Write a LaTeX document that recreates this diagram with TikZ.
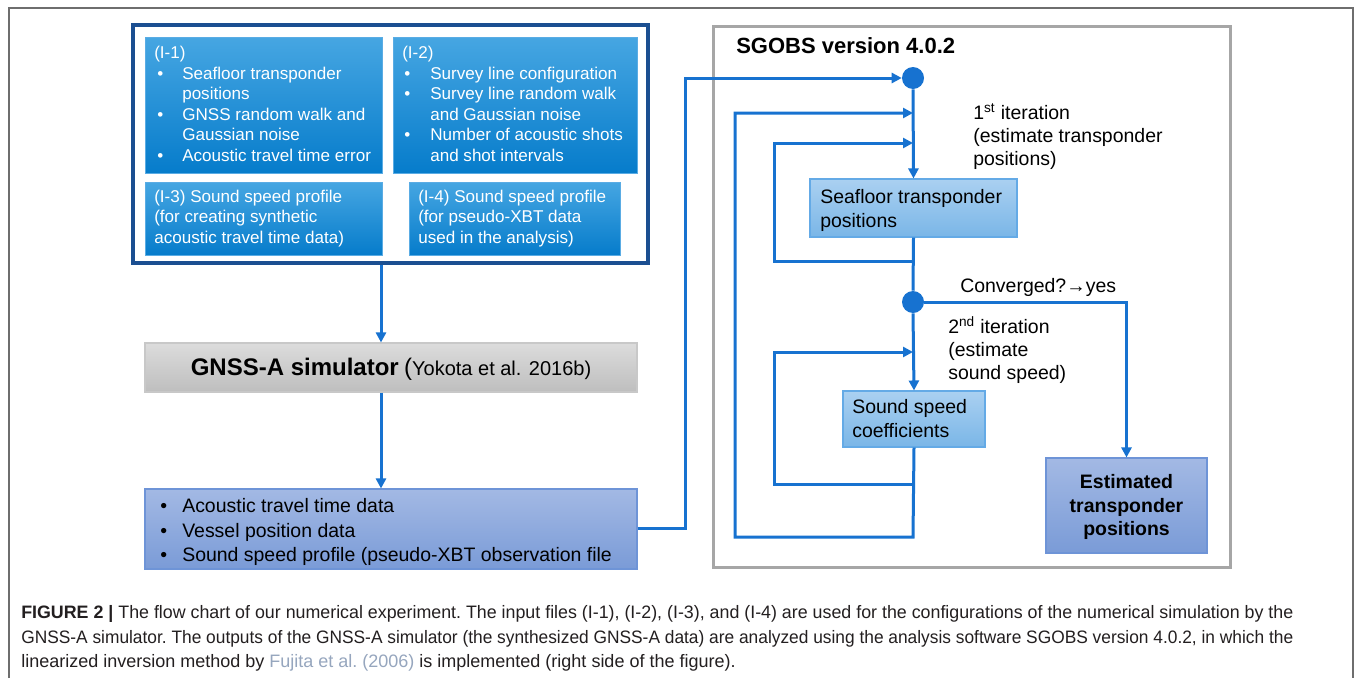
\documentclass[tikz,border=0pt]{standalone}
\usepackage{fontspec}
\setmainfont{Liberation Sans}
\usetikzlibrary{arrows.meta,fit,calc}
\definecolor{flow}{RGB}{23,114,208}
\definecolor{navy}{RGB}{27,79,145}
\definecolor{framegray}{RGB}{110,110,110}
\definecolor{sggray}{RGB}{166,166,166}
\definecolor{tbtop}{RGB}{70,166,226}
\definecolor{tbbot}{RGB}{6,124,203}
\definecolor{tbdraw}{RGB}{90,172,228}
\definecolor{pbtop}{RGB}{163,185,228}
\definecolor{pbbot}{RGB}{122,155,215}
\definecolor{pbdraw}{RGB}{110,148,215}
\definecolor{lbtop}{RGB}{170,208,241}
\definecolor{lbbot}{RGB}{122,182,231}
\definecolor{lbdraw}{RGB}{100,170,230}
\definecolor{gbtop}{RGB}{220,220,220}
\definecolor{gbbot}{RGB}{190,190,190}
\definecolor{gbdraw}{RGB}{200,200,200}
\definecolor{captxt}{RGB}{35,31,32}
\definecolor{linkc}{RGB}{150,166,190}
\newcommand\fsL{\fontsize{12.8pt}{15.4pt}\selectfont}
\newcommand\fsR{\fontsize{14.6pt}{17.25pt}\selectfont}
\newcommand\fsC{\fontsize{13.5pt}{18.4pt}\selectfont\frenchspacing}
\tikzset{
  wt/.style={inner sep=0pt, anchor=base west, text=white, font=\fsL},
  bt/.style={inner sep=0pt, anchor=base west, text=black, font=\fsR},
  et/.style={inner sep=0pt, anchor=base, text=black, font=\fsR\bfseries},
  ct/.style={inner sep=0pt, anchor=base west, text=captxt, font=\fsC},
  navybox/.style={draw=navy, line width=2.5pt, inner sep=0pt},
  topbox/.style={draw=tbdraw, line width=0.6pt, top color=tbtop, bottom color=tbbot, inner sep=0pt},
  purplebox/.style={draw=pbdraw, line width=0.8pt, top color=pbtop, bottom color=pbbot, inner sep=0pt},
  lightbox/.style={draw=lbdraw, line width=0.8pt, top color=lbtop, bottom color=lbbot, inner sep=0pt},
  greybox/.style={draw=gbdraw, line width=0.8pt, top color=gbtop, bottom color=gbbot, inner sep=0pt},
  sgbox/.style={draw=sggray, line width=2.25pt, inner sep=0pt},
  dot/.style={circle, fill=flow, inner sep=0pt, minimum size=16.5pt},
  fline/.style={draw=flow, line width=2.25pt},
  conn/.style={fline, -{Triangle[length=7.5pt,width=7.5pt]}},
}
\begin{document}
\begin{tikzpicture}[x=0.75pt,y=-0.75pt]
\useasboundingbox (0,0) rectangle (1355,678);
\fill[white] (0,0) rectangle (1355,678);
% outer frame
\draw[framegray, line width=1.5pt] (9,678) -- (9,8) -- (1353,8) -- (1353,678);

% left input block
\node[navybox, fit={(133,25) (648,263)}] (nav) {};
\node[topbox, fit={(145,37) (382,173)}] (n1) {};
\node[topbox, fit={(393,37) (637,173)}] (n2) {};
\node[topbox, fit={(145,182) (382,255)}] (n3) {};
\node[topbox, fit={(409,182) (620,255)}] (n4) {};

\node[wt] (t1a) at (154,58.5) {(I-1)};
\node[wt] (b1a) at (157,79.1) {•};
\node[wt] (t1b) at (182,79.1) {Seafloor transponder};
\node[wt] (t1c) at (182,99.7) {positions};
\node[wt] (b1b) at (157,120.3) {•};
\node[wt] (t1d) at (182,120.3) {GNSS random walk and};
\node[wt] (t1e) at (182,140.9) {Gaussian noise};
\node[wt] (b1c) at (157,161.5) {•};
\node[wt] (t1f) at (182,161.5) {Acoustic travel time error};

\node[wt] (t2a) at (402,58.5) {(I-2)};
\node[wt] (b2a) at (404,79.1) {•};
\node[wt] (t2b) at (430,79.1) {Survey line configuration};
\node[wt] (b2b) at (404,99.7) {•};
\node[wt] (t2c) at (430,99.7) {Survey line random walk};
\node[wt] (t2d) at (430,120.3) {and Gaussian noise};
\node[wt] (b2c) at (404,140.9) {•};
\node[wt] (t2e) at (430,140.9) {Number of acoustic shots};
\node[wt] (t2f) at (430,161.5) {and shot intervals};

\node[wt] (t3a) at (154,202) {(I-3) Sound speed profile};
\node[wt] (t3b) at (154,222.6) {(for creating synthetic};
\node[wt] (t3c) at (154,243.2) {acoustic travel time data)};

\node[wt] (t4a) at (418,202) {(I-4) Sound speed profile};
\node[wt] (t4b) at (418,222.6) {(for pseudo-XBT data};
\node[wt] (t4c) at (418,243.2) {used in the analysis)};

% simulator
\node[greybox, fit={(145,343) (637,392)}] (gnss) {};
\node[inner sep=0pt, anchor=base] (gnsst) at (391,375) {{\fontsize{18pt}{20pt}\selectfont\bfseries GNSS-A simulator}\hspace{4pt}{\fontsize{18pt}{20pt}\selectfont(}{\fontsize{15pt}{18pt}\selectfont Yokota et al. 2016b)}};

% output data
\node[purplebox, fit={(145,489) (637,569)}] (out) {};
\node[bt] (b5a) at (160,512.5) {•};
\node[bt] (t5a) at (182,512.5) {Acoustic travel time data};
\node[bt] (b5b) at (160,537) {•};
\node[bt] (t5b) at (182,537) {Vessel position data};
\node[bt] (b5c) at (160,561.5) {•};
\node[bt] (t5c) at (182,561.5) {Sound speed profile (pseudo-XBT observation file};

% SGOBS block
\node[sgbox, fit={(713,26) (1230,567)}] (sg) {};
\node[inner sep=0pt, anchor=base west, font=\fontsize{16.5pt}{19pt}\selectfont\bfseries] (sgt) at (736,53) {SGOBS version 4.0.2};

\node[dot] (c1) at (913,78) {};
\node[dot] (c2) at (913,302) {};
\node[lightbox, fit={(810,179) (1017,237)}] (sf) {};
\node[bt] (sfa) at (820,203) {Seafloor transponder};
\node[bt] (sfb) at (820,227) {positions};
\node[lightbox, fit={(843,391) (985,447)}] (ss) {};
\node[bt] (ssa) at (852,413.5) {Sound speed};
\node[bt] (ssb) at (852,437) {coefficients};
\node[purplebox, fit={(1046,458) (1207,553)}] (est) {};
\node[et] (esta) at (1126.5,488.5) {Estimated};
\node[et] (estb) at (1126.5,512) {transponder};
\node[et] (estc) at (1126.5,535.5) {positions};

\node[bt] (it1a) at (973,119) {1\textsuperscript{st} iteration};
\node[bt] (it1b) at (973,142) {(estimate transponder};
\node[bt] (it1c) at (973,165) {positions)};
\node[bt] (conv) at (960,292) {Converged?→yes};
\node[bt] (it2a) at (948,333) {2\textsuperscript{nd} iteration};
\node[bt] (it2b) at (948,356) {(estimate};
\node[bt] (it2c) at (948,379) {sound speed)};

% connectors
\coordinate (xa) at (381,0);
\coordinate (ya) at (0,528);
\coordinate (xb) at (685,0);
\coordinate (xo) at (735,0);
\coordinate (xi) at (774,0);
\coordinate (ot) at (913,113);
\coordinate (l3t) at (913,143);
\coordinate (l3b) at (913,261);
\coordinate (l4t) at (913,352);
\coordinate (l4b) at (913,484);
\coordinate (ob) at (913,537);

\draw[conn] (nav.south -| xa) -- (gnss.north -| xa);
\draw[conn] (gnss.south -| xa) -- (out.north -| xa);
\draw[conn] (out.east |- ya) -| (xb |- c1) -- (c1.west);
\draw[conn] (c1.south) -- (sf.north);
\draw[fline] (sf.south) -- (c2.north);
\draw[conn] (c2.south) -- (ss.north);
\draw[conn] (l3b) -| (xi |- l3t) -- (l3t);
\draw[conn] (l4b) -| (xi |- l4t) -- (l4t);
\draw[conn] (ss.south) -- (ob) -| (xo |- ot) -- (ot);
\draw[conn] (c2.east) -| (est.north);

% caption
\node[ct] (cap1) at (21,618.5) {\resizebox{954pt}{\height}{\textbf{FIGURE 2 |} The flow chart of our numerical experiment. The input files (I-1), (I-2), (I-3), and (I-4) are used for the configurations of the numerical simulation by the}};
\node[ct] (cap2) at (21,643) {\resizebox{954pt}{\height}{GNSS-A simulator. The outputs of the GNSS-A simulator (the synthesized GNSS-A data) are analyzed using the analysis software SGOBS version 4.0.2, in which the}};
\node[ct] (cap3) at (21,667.5) {linearized inversion method by \textcolor{linkc}{Fujita et al. (2006)} is implemented (right side of the figure).};
\end{tikzpicture}
\end{document}
